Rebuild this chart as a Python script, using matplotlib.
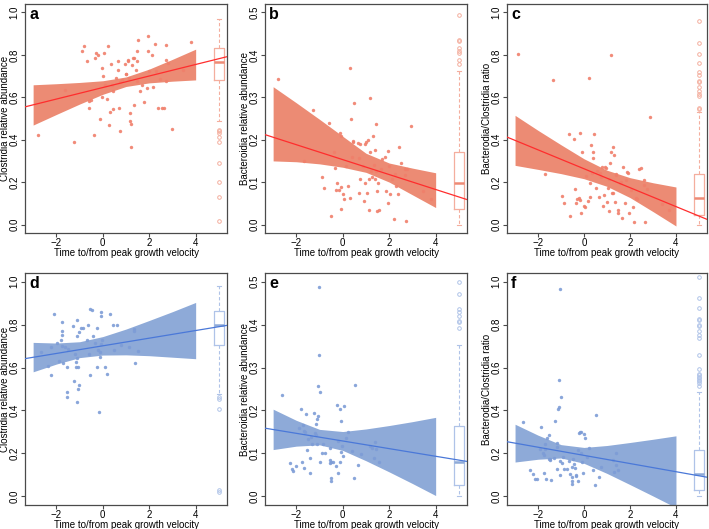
import matplotlib
matplotlib.use("Agg")
import matplotlib.pyplot as plt

plt.rcParams["font.family"] = ["Liberation Sans", "DejaVu Sans"]

# ── Data ─────────────────────────────────────────────────────────────────────
band_x = [-3, -2, -1, 0, 1, 2, 3, 4]

# a: Clostridia (red cohort)
a_x = [-2.8, -1.64, -1.26, -0.9, -0.79, -0.59, -0.3, -0.21, -0.33, -0.04, -0.01,
       0.06, 0.24, -0.04, -0.11, -0.36, -0.59, -0.5, 0.1, 0.17, 0.27, 0.29, 0.34,
       0.39, 0.46, 0.43, 0.64, 0.67, 0.7, 0.74, 0.74, 0.96, 0.99, 1.01, 1.07, 1.1,
       1.13, 1.17, 1.19, 1.2, 1.21, 1.24, 1.29, 1.36, 1.41, 1.46, 1.47, 1.36, 1.46,
       1.53, 1.6, 1.67, 1.79, 1.89, 1.96, 1.96, 1.99, 2.13, 2.17, 2.24, 2.31, 2.37,
       2.46, 2.53, 2.64, 2.71, 2.73, 2.74, 2.81, 2.96, 3.46, 3.81, -0.69, 0.57, 0.81]
a_y = [0.42, 0.634, 0.39, 0.82, 0.84, 0.584, 0.81, 0.80, 0.787, 0.74, 0.70,
       0.81, 0.84, 0.60, 0.50, 0.42, 0.55, 0.585, 0.66, 0.59, 0.47, 0.53, 0.755,
       0.66, 0.63, 0.545, 0.77, 0.73, 0.55, 0.44, 0.67, 0.755, 0.71, 0.71, 0.77, 0.774,
       0.69, 0.525, 0.49, 0.475, 0.366, 0.75, 0.787, 0.787, 0.73, 0.77, 0.82, 0.565, 0.677,
       0.87, 0.63, 0.66, 0.58, 0.643, 0.89, 0.82, 0.724, 0.80, 0.65, 0.85, 0.724, 0.55,
       0.685, 0.55, 0.55, 0.845, 0.774, 0.677, 0.763, 0.452, 0.73, 0.86, 0.77, 0.69, 0.68]
a_up = [0.659, 0.664, 0.670, 0.678, 0.696, 0.733, 0.779, 0.827]
a_lo = [0.469, 0.519, 0.568, 0.614, 0.651, 0.668, 0.676, 0.682]
a_fit = (0.646, 0.0272)
a_box = dict(med=0.766, q1=0.682, q3=0.833, whislo=0.487, whishi=0.97,
             fliers=[0.447, 0.44, 0.43, 0.413, 0.39, 0.29, 0.20, 0.128, 0.015])

# b: Bacteroidia (red cohort)
b_x = [-2.81, -1.67, -1.27, -0.91, -0.81, -0.6, -0.49, -0.37, -0.34, -0.31, -0.24,
       -0.17, -0.13, -0.09, -0.06, -0.06, 0.0, 0.06, 0.14, 0.23, 0.29, 0.33, 0.36,
       0.4, 0.43, 0.44, 0.49, 0.66, 0.69, 0.71, 0.73, 0.76, 0.86, 0.9, 0.94, 0.97,
       1.0, 1.04, 1.07, 1.11, 1.14, 1.19, 1.19, 1.21, 1.26, 1.29, 1.33, 1.37, 1.4,
       1.43, 1.44, 1.47, 1.47, 1.51, 1.57, 1.63, 1.69, 1.8, 1.86, 1.93, 1.97, 1.94,
       2.04, 2.14, 2.2, 2.26, 2.3, 2.37, 2.43, 2.51, 2.66, 2.69, 2.71, 2.76, 2.93,
       3.47, 3.8]
b_y = [0.344, 0.150, 0.269, 0.111, 0.085, 0.239, 0.021, 0.171, 0.134, 0.081, 0.099,
       0.081, 0.216, 0.209, 0.089, 0.037, 0.071, 0.059, 0.138, 0.091, 0.369, 0.063, 0.25,
       0.16, 0.194, 0.197, 0.286, 0.192, 0.157, 0.075, 0.107, 0.19, 0.138, 0.055, 0.19, 0.099,
       0.194, 0.075, 0.199, 0.107, 0.034, 0.17, 0.298, 0.126, 0.111, 0.208, 0.141, 0.107, 0.176,
       0.237, 0.126, 0.079, 0.033, 0.099, 0.034, 0.13, 0.154, 0.16, 0.079, 0.174, 0.138, 0.05,
       0.071, 0.107, 0.012, 0.118, 0.092, 0.071, 0.182, 0.146, 0.116, 0.13, 0.008, 0.132, 0.233,
       0.079, 0.059]
b_up = [0.325, 0.287, 0.248, 0.208, 0.168, 0.145, 0.133, 0.122]
b_lo = [0.150, 0.148, 0.143, 0.135, 0.123, 0.100, 0.070, 0.040]
b_fit = (0.153, -0.0176)
b_box = dict(med=0.097, q1=0.036, q3=0.17, whislo=0.0, whishi=0.361,
             fliers=[0.495, 0.434, 0.432, 0.416, 0.41, 0.405, 0.387, 0.379])

# c: Bacteroidia/Clostridia ratio (red cohort)
c_x = [-2.86, -1.69, -1.33, -0.97, -0.86, -0.66, -0.59, -0.43, -0.4, -0.36, -0.29,
       -0.23, -0.19, -0.16, -0.11, -0.09, -0.01, 0.03, 0.1, 0.17, 0.21, 0.24, 0.27,
       0.31, 0.34, 0.39, 0.41, 0.43, 0.5, 0.56, 0.64, 0.7, 0.73, 0.77, 0.81, 0.86,
       0.93, 0.96, 0.99, 1.03, 1.07, 1.1, 1.13, 1.16, 1.17, 1.2, 1.24, 1.27, 1.29,
       1.33, 1.39, 1.41, 1.46, 1.49, 1.56, 1.6, 1.64, 1.7, 1.79, 1.84, 1.89, 1.91,
       1.96, 2.06, 2.13, 2.19, 2.24, 2.31, 2.39, 2.46, 2.6, 2.63, 2.67, 2.74, 2.89,
       3.39, 3.71]
c_y = [0.805, 0.237, 0.682, 0.136, 0.101, 0.428, 0.039, 0.405, 0.168, 0.101, 0.12,
       0.125, 0.431, 0.117, 0.055, 0.343, 0.086, 0.081, 0.231, 0.109, 0.69, 0.132, 0.195,
       0.377, 0.241, 0.343, 0.312, 0.425, 0.171, 0.252, 0.132, 0.245, 0.223, 0.273, 0.086, 0.14,
       0.273, 0.265, 0.104, 0.171, 0.213, 0.062, 0.291, 0.343, 0.799, 0.151, 0.151, 0.366, 0.33,
       0.104, 0.238, 0.234, 0.055, 0.07, 0.195, 0.202, 0.031, 0.27, 0.101, 0.21, 0.246, 0.241,
       0.055, 0.164, 0.083, 0.012, 0.125, 0.12, 0.26, 0.265, 0.21, 0.187, 0.012, 0.168, 0.509,
       0.098, 0.07]
c_up = [0.515, 0.444, 0.376, 0.310, 0.256, 0.221, 0.197, 0.177]
c_lo = [0.279, 0.260, 0.240, 0.216, 0.180, 0.127, 0.061, -0.007]
c_fit = (0.263, -0.0446)
c_box = dict(med=0.125, q1=0.044, q3=0.238, whislo=0.0, whishi=0.533,
             fliers=[0.958, 0.857, 0.802, 0.76, 0.717, 0.706, 0.678, 0.67, 0.65,
                     0.63, 0.615, 0.604, 0.55, 0.545])

# d: Clostridia (blue cohort)
d_x = [-2.68, -2.35, -2.24, -2.21, -2.11, -1.96, -1.88, -1.8, -1.77, -1.77, -1.75,
       -1.75, -1.7, -1.63, -1.56, -1.52, -1.56, -1.49, -1.3, -1.24, -1.2, -1.17, -1.15,
       -1.13, -1.13, -1.1, -1.1, -1.08, -1.08, -1.04, -1.01, -0.95, -0.84, -0.66, -0.62,
       -0.58, -0.55, -0.55, -0.48, -0.4, -0.33, -0.26, -0.26, -0.19, -0.16, -0.12, -0.09,
       -0.09, -0.06, -0.04, 0.1, 0.17, 0.32, 0.42, 0.49, 0.63, 0.78, 1.15, 1.33, 1.36,
       1.37, 1.52, -0.14]
d_y = [0.674, 0.608, 0.563, 0.696, 0.847, 0.714, 0.629, 0.73, 0.752, 0.769, 0.811,
       0.702, 0.621, 0.696, 0.602, 0.484, 0.465, 0.686, 0.793, 0.535, 0.663, 0.624, 0.602,
       0.644, 0.441, 0.821, 0.749, 0.602, 0.499, 0.52, 0.764, 0.785, 0.785, 0.727, 0.8,
       0.665, 0.871, 0.566, 0.867, 0.746, 0.714, 0.785, 0.601, 0.68, 0.395, 0.649, 0.711,
       0.839, 0.858, 0.73, 0.602, 0.571, 0.847, 0.8, 0.683, 0.796, 0.707, 0.696, 0.78, 0.769,
       0.621, 0.675, 0.671]
d_up = [0.717, 0.714, 0.720, 0.744, 0.779, 0.819, 0.860, 0.903]
d_lo = [0.580, 0.616, 0.646, 0.658, 0.659, 0.655, 0.648, 0.641]
d_fit = (0.701, 0.0178)
d_box = dict(med=0.80, q1=0.707, q3=0.863, whislo=0.476, whishi=0.98,
             fliers=[0.465, 0.452, 0.406, 0.028, 0.02])

# e: Bacteroidia (blue cohort)
e_x = [-2.6, -2.29, -2.17, -2.14, -2.03, -1.89, -1.79, -1.74, -1.7, -1.67, -1.66,
       -1.63, -1.57, -1.53, -1.49, -1.43, -1.43, -1.39, -1.31, -1.24, -1.2, -1.17, -1.14,
       -1.1, -1.1, -1.06, -1.06, -1.03, -1.03, -1.0, -0.96, -0.91, -0.86, -0.77, -0.57,
       -0.56, -0.53, -0.49, -0.49, -0.49, -0.43, -0.31, -0.24, -0.2, -0.2, -0.14, -0.1,
       -0.06, -0.06, 0.0, 0.04, -0.03, 0.16, 0.21, 0.4, 0.5, 0.54, 0.66, 0.8, 1.19, 1.26,
       1.33, 1.4, 1.43, 1.54]
e_y = [0.235, 0.077, 0.063, 0.059, 0.07, 0.16, 0.204, 0.079, 0.167, 0.152, 0.066,
       0.15, 0.192, 0.107, 0.133, 0.089, 0.055, 0.139, 0.121, 0.194, 0.148, 0.143, 0.168,
       0.18, 0.123, 0.188, 0.258, 0.488, 0.329, 0.081, 0.242, 0.101, 0.121, 0.101, 0.113,
       0.085, 0.077, 0.081, 0.042, 0.036, 0.079, 0.07, 0.212, 0.129, 0.054, 0.204, 0.081,
       0.176, 0.103, 0.093, 0.21, 0.118, 0.137, 0.15, 0.105, 0.044, 0.259, 0.073, 0.099, 0.117,
       0.113, 0.089, 0.126, 0.111, 0.081]
e_up = [0.203, 0.177, 0.156, 0.151, 0.157, 0.165, 0.174, 0.184]
e_lo = [0.109, 0.117, 0.120, 0.107, 0.083, 0.057, 0.030, 0.002]
e_fit = (0.129, -0.0089)
e_box = dict(med=0.081, q1=0.026, q3=0.163, whislo=0.0, whishi=0.352,
             fliers=[0.5, 0.471, 0.437, 0.43, 0.421, 0.409, 0.407, 0.391])

# f: Bacteroidia/Clostridia ratio (blue cohort)
f_x = [-2.66, -2.33, -2.21, -2.14, -2.04, -1.93, -1.86, -1.8, -1.76, -1.76, -1.69,
       -1.69, -1.64, -1.59, -1.54, -1.51, -1.5, -1.47, -1.44, -1.3, -1.26, -1.19, -1.16,
       -1.16, -1.11, -1.07, -1.07, -1.04, -1.04, -1.01, -1.04, -0.97, -0.93, -0.87, -0.76,
       -0.66, -0.61, -0.54, -0.54, -0.51, -0.51, -0.47, -0.44, -0.4, -0.37, -0.33, -0.26,
       -0.26, -0.23, -0.19, -0.14, -0.11, -0.09, -0.04, 0.0, 0.06, 0.13, 0.2, 0.39, 0.46,
       0.5, 0.64, 0.74, 1.24, 1.31, 1.39, 1.39, 1.49]
f_y = [0.345, 0.125, 0.106, 0.083, 0.083, 0.223, 0.324, 0.2, 0.192, 0.109, 0.246,
       0.223, 0.08, 0.27, 0.176, 0.285, 0.168, 0.172, 0.078, 0.179, 0.353, 0.25, 0.231,
       0.129, 0.406, 0.418, 0.543, 0.967, 0.098, 0.465, 0.164, 0.156, 0.184, 0.129, 0.129,
       0.165, 0.106, 0.137, 0.09, 0.056, 0.072, 0.172, 0.153, 0.134, 0.098, 0.094, 0.072,
       0.215, 0.296, 0.298, 0.203, 0.301, 0.161, 0.109, 0.29, 0.27, 0.184, 0.226, 0.125, 0.055,
       0.379, 0.09, 0.137, 0.168, 0.114, 0.203, 0.145, 0.122]
f_up = [0.336, 0.285, 0.241, 0.228, 0.237, 0.251, 0.266, 0.282]
f_lo = [0.160, 0.173, 0.179, 0.154, 0.107, 0.055, 0.002, -0.052]
f_fit = (0.191, -0.019)
f_box = dict(med=0.106, q1=0.031, q3=0.218, whislo=0.0, whishi=0.488,
             fliers=[1.023, 0.925, 0.878, 0.827, 0.821, 0.8, 0.792, 0.772, 0.753, 0.738,
                     0.66, 0.594, 0.571, 0.563, 0.555, 0.551, 0.543, 0.535, 0.527, 0.512])

XLABEL = "Time to/from peak growth velocity"
YLAB_CLOS = "Clostridia relative abundance"
YLAB_BACT = "Bacteroidia relative abundance"
YLAB_RATIO = "Bacterodia/Clostridia ratio"

RED = dict(fill="#EC8B74", pts="#F07F6B", line="#FF2D2D", box="#F4AE9E", med="#EE8A75")
BLUE = dict(fill="#8EAAD8", pts="#7D9CD6", line="#4A78D8", box="#AFC3E8", med="#8EAAD8")

FS = 7.0

# ── Layout (pixels of the 709x529 reference) ─────────────────────────────────
W, H = 709, 529
cols = [(25, 202), (265, 202), (507, 200)]
rows = [(4, 229), (273, 232)]


def panel(fig, col, row, letter, xs, ys, up, lo, fit, box, ylab, ymax, cl):
    left, width = cols[col]
    top, height = rows[row]
    ax = fig.add_axes([left / W, (H - top - height) / H, width / W, height / H])

    ax.fill_between(band_x, lo, up, color=cl["fill"], lw=0, zorder=1)
    ax.scatter(xs, ys, s=6, color=cl["pts"], linewidths=0, alpha=0.9, zorder=2)
    ax.axline((0, fit[0]), slope=fit[1], color=cl["line"], lw=0.9, zorder=3)

    stats = dict(box, label="")
    ax.bxp([stats], positions=[5], widths=0.4, showfliers=True,
           boxprops=dict(color=cl["box"], lw=0.9),
           whiskerprops=dict(color=cl["box"], lw=0.8, ls=(0, (3, 2))),
           capprops=dict(color=cl["box"], lw=0.8),
           medianprops=dict(color=cl["med"], lw=1.8),
           flierprops=dict(marker="o", markersize=2.6, markerfacecolor="none",
                           markeredgecolor=cl["box"], markeredgewidth=0.7),
           capwidths=0.2, manage_ticks=False, zorder=2)

    ax.set_xlim(-3.35, 5.35)
    ax.set_ylim(-0.04 * ymax, 1.04 * ymax)
    ax.set_xticks([-2, 0, 2, 4])
    ax.set_xticklabels(["\u22122", "0", "2", "4"])
    step = 0.2 if ymax == 1.0 else 0.1
    yt = [round(i * step, 1) for i in range(6)]
    ax.set_yticks(yt)
    ax.set_yticklabels([f"{v:.1f}" for v in yt])
    for lab in ax.get_yticklabels():
        lab.set_rotation(90)
        lab.set_va("center")

    for sp in ax.spines.values():
        sp.set_color("#4a4a4a")
        sp.set_linewidth(0.9)
    ax.tick_params(length=3, width=0.8, color="#4a4a4a", labelsize=FS, pad=0.8)
    ax.set_xlabel(XLABEL, fontsize=FS, va="center")
    ax.xaxis.set_label_coords(0.5, -20 / height)
    ax.set_ylabel(ylab, fontsize=FS, va="center")
    ax.yaxis.set_label_coords(-20 / width, 0.5)
    ax.text(0.02, 0.985, letter, transform=ax.transAxes, fontsize=11.5,
            fontweight="bold", va="top", ha="left")
    return ax


fig = plt.figure(figsize=(W / 100, H / 100), dpi=100)
panel(fig, 0, 0, "a", a_x, a_y, a_up, a_lo, a_fit, a_box, YLAB_CLOS, 1.0, RED)
panel(fig, 1, 0, "b", b_x, b_y, b_up, b_lo, b_fit, b_box, YLAB_BACT, 0.5, RED)
panel(fig, 2, 0, "c", c_x, c_y, c_up, c_lo, c_fit, c_box, YLAB_RATIO, 1.0, RED)
panel(fig, 0, 1, "d", d_x, d_y, d_up, d_lo, d_fit, d_box, YLAB_CLOS, 1.0, BLUE)
panel(fig, 1, 1, "e", e_x, e_y, e_up, e_lo, e_fit, e_box, YLAB_BACT, 0.5, BLUE)
panel(fig, 2, 1, "f", f_x, f_y, f_up, f_lo, f_fit, f_box, YLAB_RATIO, 1.0, BLUE)

fig.savefig("out.png", dpi=100)
plt.close(fig)
